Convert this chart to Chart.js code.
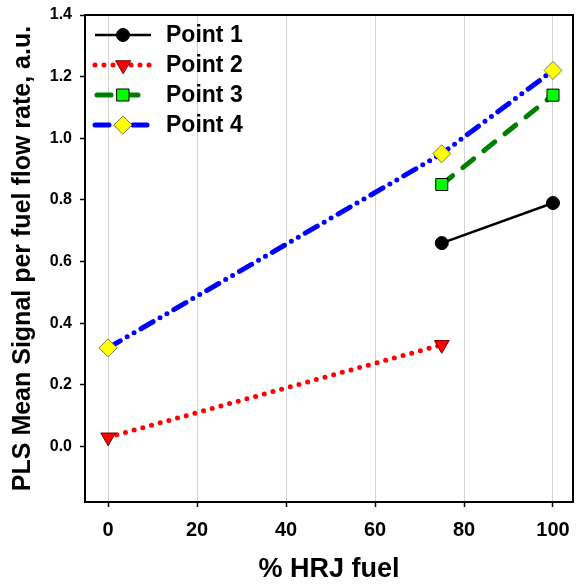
<!DOCTYPE html>
<html>
<head>
<meta charset="utf-8">
<script src="https://cdn.jsdelivr.net/npm/chart.js@4.4.1/dist/chart.umd.min.js"></script>
<style>
  html, body { margin: 0; padding: 0; background: #fff; }
  #wrap { width: 576px; height: 586px; }
</style>
</head>
<body>
<div id="wrap"><canvas id="plsChart" width="576" height="586"></canvas></div>
<script>
// % HRJ in the fuel blend, and PLS signal per fuel flow rate for each operating point
const hrjLevels = [0, 75, 100];
const point1 = [null, 0.66, 0.79];
const point2 = [0.03, 0.33, null];
const point3 = [null, 0.85, 1.14];
const point4 = [0.32, 0.95, 1.22];
const seriesNames = ['Point 1', 'Point 2', 'Point 3', 'Point 4'];
const xTicks = [0, 20, 40, 60, 80, 100];
const yTicks = [0.0, 0.2, 0.4, 0.6, 0.8, 1.0, 1.2, 1.4];

const FONT = "'Liberation Sans', Arial, sans-serif";
Chart.defaults.font.family = FONT;
Chart.defaults.color = '#000';

const toPoints = (vals) => hrjLevels
    .map((x, i) => ({ x: x, y: vals[i] }))
    .filter(p => p.y !== null);

// frame round the plot area
const frameBox = {
    id: 'frameBox',
    beforeDatasetsDraw(chart) {
        const { ctx, chartArea: a } = chart;
        ctx.save();
        ctx.strokeStyle = '#000';
        ctx.lineWidth = 2;
        ctx.strokeRect(a.left, a.top, a.right - a.left, a.bottom - a.top);
        ctx.restore();
    }
};

// legend: line sample with marker in the middle, label to the right
const lineKey = {
    id: 'lineKey',
    afterDatasetsDraw(chart) {
        const ctx = chart.ctx;
        chart.data.datasets.forEach((ds, i) => {
            const y = 35 + i * 30;
            ctx.save();
            ctx.strokeStyle = ds.borderColor;
            ctx.lineWidth = ds.borderWidth;
            ctx.lineCap = ds.borderCapStyle || 'butt';
            ctx.setLineDash(ds.borderDash || []);
            ctx.lineDashOffset = ds.keyDashOffset || 0;
            ctx.beginPath();
            ctx.moveTo(95, y);
            ctx.lineTo(151, y);
            ctx.stroke();
            ctx.setLineDash([]);
            ctx.fillStyle = ds.pointBackgroundColor;
            ctx.strokeStyle = ds.pointBorderColor;
            ctx.lineWidth = ds.pointBorderWidth;
            Chart.helpers.drawPoint(ctx, {
                pointStyle: ds.pointStyle,
                radius: ds.pointRadius,
                rotation: ds.pointRotation || 0,
                borderWidth: ds.pointBorderWidth
            }, 123, y);
            ctx.fillStyle = '#000';
            ctx.font = 'bold 23px ' + FONT;
            ctx.textBaseline = 'middle';
            ctx.fillText(ds.label, 166, y + 1);
            ctx.restore();
        });
    }
};

// keep the plot area fixed: the end labels fit inside the margins anyway
const noOverhang = (scale) => {
    scale.paddingLeft = 0;
    scale.paddingRight = 0;
    scale.paddingTop = 0;
    scale.paddingBottom = 0;
};

const ctx = document.getElementById('plsChart').getContext('2d');
const plsChart = new Chart(ctx, {
    type: 'line',
    data: {
        datasets: [{
            label: seriesNames[0],
            data: toPoints(point1),
            borderColor: '#000000',
            borderWidth: 2.5,
            pointStyle: 'circle',
            pointRadius: 6.5,
            pointBackgroundColor: '#000000',
            pointBorderColor: '#000000',
            pointBorderWidth: 1
        }, {
            label: seriesNames[1],
            data: toPoints(point2),
            borderColor: '#ff0000',
            borderWidth: 5,
            borderDash: [0, 9],
            borderCapStyle: 'round',
            pointStyle: 'triangle',
            pointRotation: 180,
            pointRadius: 8.5,
            pointBackgroundColor: '#ff0000',
            pointBorderColor: '#700000',
            pointBorderWidth: 1
        }, {
            label: seriesNames[2],
            data: toPoints(point3),
            borderColor: '#008000',
            borderWidth: 5,
            borderDash: [14, 13],
            borderCapStyle: 'round',
            keyDashOffset: -2,
            pointStyle: 'rect',
            pointRadius: 8.5,
            pointBackgroundColor: '#00ff00',
            pointBorderColor: '#000000',
            pointBorderWidth: 1
        }, {
            label: seriesNames[3],
            data: toPoints(point4),
            borderColor: '#0000ff',
            borderWidth: 5,
            borderDash: [14, 8, 0, 8, 0, 8],
            borderCapStyle: 'round',
            pointStyle: 'rectRot',
            pointRadius: 9,
            pointBackgroundColor: '#ffff00',
            pointBorderColor: '#7a7a50',
            pointBorderWidth: 1
        }]
    },
    options: {
        responsive: false,
        animation: false,
        devicePixelRatio: 1,
        layout: { autoPadding: false, padding: { top: 15, right: 3, left: 0, bottom: 0 } },
        plugins: {
            legend: { display: false },
            tooltip: { enabled: false }
        },
        scales: {
            x: {
                type: 'linear',
                min: -5.2,
                max: 104.5,
                afterFit: (scale) => { scale.height = 84; noOverhang(scale); },
                afterBuildTicks: (scale) => {
                    scale.ticks = xTicks.map(v => ({ value: v }));
                },
                ticks: {
                    padding: 11,
                    maxRotation: 0,
                    font: { size: 20, weight: 'bold' },
                    callback: (v) => String(v)
                },
                grid: {
                    color: '#d2d2d2',
                    lineWidth: 1,
                    tickColor: '#000',
                    tickLength: 5,
                    tickWidth: 1.5
                },
                border: { display: false },
                title: {
                    display: true,
                    text: '% HRJ fuel',
                    font: { size: 27, weight: 'bold' },
                    padding: { top: 0, bottom: 0 }
                }
            },
            y: {
                type: 'linear',
                min: -0.18,
                max: 1.4,
                afterFit: (scale) => { scale.width = 85; noOverhang(scale); },
                afterBuildTicks: (scale) => {
                    scale.ticks = yTicks.map(v => ({ value: v }));
                },
                ticks: {
                    padding: 8,
                    font: { size: 16, weight: 'bold' },
                    callback: (v) => Number(v).toFixed(1)
                },
                grid: {
                    drawOnChartArea: false,
                    tickColor: '#000',
                    tickLength: 5,
                    tickWidth: 1.5
                },
                border: { display: false },
                title: {
                    display: true,
                    text: 'PLS Mean Signal per fuel flow rate, a.u.',
                    font: { size: 25, weight: 'bold' },
                    padding: { top: 8, bottom: 0 }
                }
            }
        }
    },
    plugins: [frameBox, lineKey]
});
</script>
</body>
</html>
